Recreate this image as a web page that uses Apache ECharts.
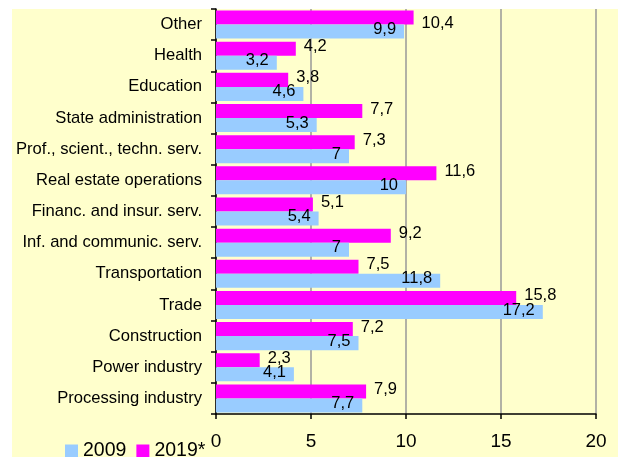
<!DOCTYPE html>
<html>
<head>
<meta charset="utf-8">
<script src="https://cdn.jsdelivr.net/npm/echarts@6/dist/echarts.min.js"></script>
<style>
  html, body { margin: 0; padding: 0; background: #ffffff; }
  #chart { width: 618px; height: 457px; }
</style>
</head>
<body>
<div id="chart"></div>
<script>
// categories top to bottom
var categories = ['Other', 'Health', 'Education', 'State administration',
  'Prof., scient., techn. serv.', 'Real estate operations', 'Financ. and insur. serv.',
  'Inf. and communic. serv.', 'Transportation', 'Trade', 'Construction',
  'Power industry', 'Processing industry'];
var values2009 = [9.9, 3.2, 4.6, 5.3, 7, 10, 5.4, 7, 11.8, 17.2, 7.5, 4.1, 7.7];
var values2019 = [10.4, 4.2, 3.8, 7.7, 7.3, 11.6, 5.1, 9.2, 7.5, 15.8, 7.2, 2.3, 7.9];
var xTicks = [0, 5, 10, 15, 20];

var fontName = '"Liberation Sans", Arial, sans-serif';

function commaLabel(p) {
  return String(p.value).replace('.', ',');
}

// top label sits lower in the original (no room above the plot)
var data2019 = values2019.map(function (v, i) {
  return i === 0 ? { value: v, label: { offset: [0, 6] } } : v;
});

var chartDom = document.getElementById('chart');
var myChart = echarts.init(chartDom);
var option = {
  animation: false,
  backgroundColor: '#ffffff',
  textStyle: { fontFamily: fontName },
  graphic: [{
    type: 'rect',
    z: -10,
    silent: true,
    shape: { x: 12, y: 9, width: 606, height: 448 },
    style: { fill: '#ffffcc' }
  }],
  legend: {
    data: ['2009', '2019*'],
    left: 60,
    top: 436,
    itemWidth: 13,
    itemHeight: 13,
    itemGap: 10,
    icon: 'rect',
    textStyle: { fontSize: 19.5, color: '#000', fontFamily: fontName }
  },
  grid: { left: 216, right: 22, top: 9, bottom: 43, containLabel: false },
  xAxis: {
    type: 'value',
    min: xTicks[0],
    max: xTicks[xTicks.length - 1],
    interval: 5,
    axisLine: { show: true, lineStyle: { color: '#000', width: 1.5 } },
    axisTick: { show: true, length: 5, lineStyle: { color: '#000', width: 1.5 } },
    axisLabel: { fontSize: 19, color: '#000', margin: 18, fontFamily: fontName },
    splitLine: { show: true, lineStyle: { color: '#999', width: 1.5 } }
  },
  yAxis: {
    type: 'category',
    data: categories,
    inverse: true,
    axisLine: { show: true, lineStyle: { color: '#000', width: 1.5 } },
    axisTick: { show: true, length: 5, lineStyle: { color: '#000', width: 1.5 } },
    axisLabel: { fontSize: 16.6, color: '#000', margin: 14, fontFamily: fontName }
  },
  series: [
    {
      name: '2019*',
      type: 'bar',
      data: data2019,
      barGap: '0%',
      barCategoryGap: '10%',
      itemStyle: { color: '#ff00ff' },
      label: {
        show: true, position: 'right', distance: 8, offset: [0, -2],
        fontSize: 16.5, color: '#000', fontFamily: fontName, formatter: commaLabel
      }
    },
    {
      name: '2009',
      type: 'bar',
      data: values2009,
      barGap: '0%',
      barCategoryGap: '10%',
      itemStyle: { color: '#99ccff' },
      label: {
        show: true, position: 'insideRight', distance: 8, offset: [0, -2],
        fontSize: 16.5, color: '#000', fontFamily: fontName, formatter: commaLabel
      }
    }
  ]
};
option && myChart.setOption(option);
</script>
</body>
</html>
